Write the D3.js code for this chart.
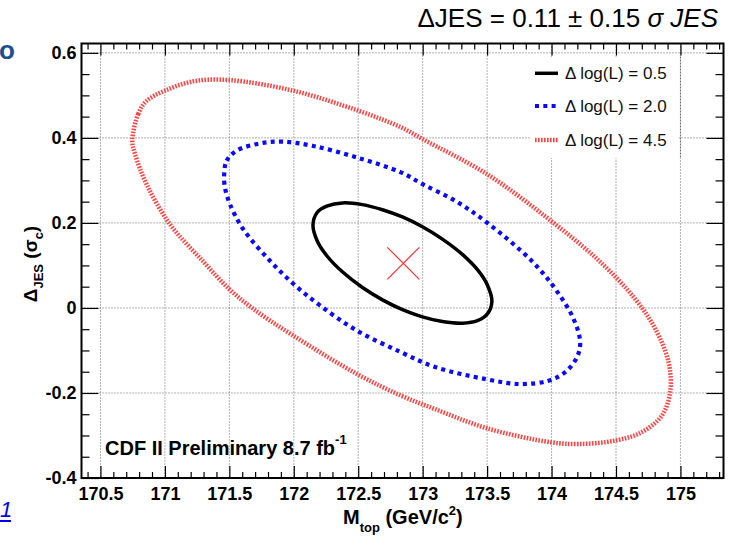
<!DOCTYPE html>
<html>

<head>
    <meta charset="UTF-8">
    <style>
        body { margin: 0; background: #fff; }
        svg { display: block; font-family: "Liberation Sans", Arial, sans-serif; }
        .tick text { font-weight: bold; font-size: 18px; fill: #000; }
    </style>
</head>

<body>
    <svg></svg>
    <script src="https://d3js.org/d3.v7.min.js"></script>

    <script>
        const w = 732;
        const h = 536;

        // contour points: [M_top, Delta_JES]
        const contour05 = [
            [172.149, 0.195], [172.183, 0.225], [172.261, 0.240], [172.377, 0.247], [172.533, 0.243],
            [172.688, 0.231], [172.843, 0.214], [172.998, 0.191], [173.153, 0.162], [173.308, 0.126],
            [173.425, 0.090], [173.502, 0.054], [173.537, 0.015], [173.502, -0.014], [173.425, -0.030],
            [173.308, -0.036], [173.153, -0.032], [172.998, -0.021], [172.843, -0.004], [172.688, 0.019],
            [172.533, 0.048], [172.377, 0.085], [172.261, 0.121], [172.183, 0.157]
        ];
        const contour20 = [
            [171.460, 0.315], [171.479, 0.346], [171.557, 0.370], [171.737, 0.387], [171.918, 0.391],
            [172.151, 0.381], [172.488, 0.354], [172.831, 0.319], [173.000, 0.291], [173.253, 0.252],
            [173.498, 0.201], [173.848, 0.110], [174.028, 0.045], [174.171, -0.026], [174.222, -0.081],
            [174.197, -0.116], [174.106, -0.151], [173.977, -0.171], [173.757, -0.179], [173.498, -0.168],
            [173.097, -0.139], [172.831, -0.104], [172.488, -0.053], [172.203, 0.006], [171.996, 0.057],
            [171.815, 0.111], [171.608, 0.185], [171.505, 0.244], [171.466, 0.283]
        ];
        const contour45 = [
            [170.747, 0.393], [170.793, 0.456], [170.858, 0.487], [171.000, 0.511], [171.220, 0.533],
            [171.497, 0.536], [171.996, 0.511], [172.500, 0.464], [172.831, 0.425], [173.000, 0.397],
            [173.498, 0.315], [173.995, 0.205], [174.375, 0.109], [174.649, 0.021], [174.804, -0.049],
            [174.908, -0.128], [174.920, -0.198], [174.856, -0.253], [174.701, -0.292], [174.494, -0.312],
            [174.210, -0.320], [173.995, -0.316], [173.498, -0.283], [173.097, -0.238], [172.831, -0.206],
            [172.488, -0.155], [171.996, -0.065], [171.685, -0.002], [171.497, 0.045], [171.298, 0.109],
            [171.039, 0.197], [170.858, 0.291], [170.768, 0.362]
        ];
        const bestFit = [172.85, 0.105];

        const xMajor = [170.5, 171, 171.5, 172, 172.5, 173, 173.5, 174, 174.5, 175];
        const xLabels = ["170.5", "171", "171.5", "172", "172.5", "173", "173.5", "174", "174.5", "175"];
        const yMajor = [-0.4, -0.2, 0, 0.2, 0.4, 0.6];
        const yLabels = ["-0.4", "-0.2", "0", "0.2", "0.4", "0.6"];
        const legendLabels = ["\u0394 log(L) = 0.5", "\u0394 log(L) = 2.0", "\u0394 log(L) = 4.5"];

        const frame = { left: 81.5, right: 723.5, top: 43.5, bottom: 478 };

        let svg = d3.select("svg")
            .attr("width", w)
            .attr("height", h);

        const x = d3.scaleLinear()
            .domain([170.353, 175.334])
            .range([frame.left, frame.right]);
        const y = d3.scaleLinear()
            .domain([-0.4, 0.622])
            .range([frame.bottom, frame.top]);

        const xMinor = d3.range(170.4, 175.34, 0.1).map(v => +v.toFixed(1)).filter(v => !xMajor.includes(v));
        const yMinor = d3.range(-0.35, 0.62, 0.05).map(v => +v.toFixed(2)).filter(v => !yMajor.includes(v));

        // grid
        const grid = svg.append("g").attr("class", "grid")
            .attr("stroke", "#666").attr("stroke-width", 1).attr("stroke-dasharray", "1,2");
        grid.selectAll(".gx").data(xMajor).join("line")
            .attr("x1", d => x(d)).attr("x2", d => x(d))
            .attr("y1", frame.top).attr("y2", frame.bottom);
        grid.selectAll(".gy").data(yMajor.filter(d => d > -0.4)).join("line")
            .attr("x1", frame.left).attr("x2", frame.right)
            .attr("y1", d => y(d)).attr("y2", d => y(d));

        // legend background hides the grid
        svg.append("rect")
            .attr("x", 531).attr("y", 57).attr("width", 148).attr("height", 101)
            .attr("fill", "#fff");
        svg.append("line")
            .attr("x1", x(175)).attr("x2", x(175)).attr("y1", 57).attr("y2", 158)
            .attr("stroke", "#666").attr("stroke-dasharray", "1,2");

        // contours
        const line = d3.line()
            .x(d => x(d[0]))
            .y(d => y(d[1]))
            .curve(d3.curveCatmullRomClosed.alpha(0.5));

        const styles = [
            { data: contour45, stroke: "#ff4444", width: 4.5, dash: "1.6,1.4" },
            { data: contour20, stroke: "#0a0aff", width: 4.2, dash: "4,4.3" },
            { data: contour05, stroke: "#000", width: 3.5, dash: null }
        ];

        svg.append("g").selectAll("path")
            .data(styles)
            .join("path")
            .attr("d", d => line(d.data))
            .attr("fill", "none")
            .attr("stroke", d => d.stroke)
            .attr("stroke-width", d => d.width)
            .attr("stroke-dasharray", d => d.dash);

        // best fit cross
        const cx = x(bestFit[0]), cy = y(bestFit[1]);
        svg.append("path")
            .attr("d", `M${cx - 16},${cy - 16}L${cx + 16},${cy + 16}M${cx - 16},${cy + 16}L${cx + 16},${cy - 16}`)
            .attr("stroke", "#ff3030")
            .attr("stroke-width", 1.2);

        // axes
        const axisG = svg.append("g").attr("class", "axes");
        function drawAxis(axis, tx, ty) {
            const g = axisG.append("g")
                .attr("transform", `translate(${tx},${ty})`)
                .call(axis);
            g.select(".domain").remove();
            g.selectAll(".tick line").attr("stroke", "#000").attr("stroke-width", 1.2);
            return g;
        }

        drawAxis(d3.axisBottom(x).tickValues(xMajor).tickSize(-12).tickPadding(9)
            .tickFormat((d, i) => xLabels[i]), 0, frame.bottom)
            .selectAll("text").attr("dy", "0.71em");
        drawAxis(d3.axisBottom(x).tickValues(xMinor).tickSize(-6).tickFormat(""), 0, frame.bottom);
        drawAxis(d3.axisTop(x).tickValues(xMajor).tickSize(-12).tickFormat(""), 0, frame.top);
        drawAxis(d3.axisTop(x).tickValues(xMinor).tickSize(-6).tickFormat(""), 0, frame.top);

        drawAxis(d3.axisLeft(y).tickValues(yMajor).tickSize(-17).tickPadding(5)
            .tickFormat((d, i) => yLabels[i]), frame.left, 0);
        drawAxis(d3.axisLeft(y).tickValues(yMinor).tickSize(-8).tickFormat(""), frame.left, 0);
        drawAxis(d3.axisRight(y).tickValues(yMajor).tickSize(-17).tickFormat(""), frame.right, 0);
        drawAxis(d3.axisRight(y).tickValues(yMinor).tickSize(-8).tickFormat(""), frame.right, 0);

        svg.selectAll(".tick text").attr("font-family", "'Liberation Sans', Arial, sans-serif");

        // frame
        svg.append("rect")
            .attr("x", frame.left).attr("y", frame.top)
            .attr("width", frame.right - frame.left).attr("height", frame.bottom - frame.top)
            .attr("fill", "none").attr("stroke", "#000").attr("stroke-width", 2);

        // legend
        const legend = svg.append("g").attr("class", "legend");
        const legY = [73.3, 106, 140];
        legend.selectAll("line")
            .data(styles.slice().reverse())
            .join("line")
            .attr("x1", 535).attr("x2", (d, i) => i == 1 ? 559 : 558)
            .attr("y1", (d, i) => legY[i]).attr("y2", (d, i) => legY[i])
            .attr("stroke", d => d.stroke)
            .attr("stroke-width", d => d.width)
            .attr("stroke-dasharray", d => d.dash);
        legend.selectAll("text")
            .data(legendLabels)
            .join("text")
            .attr("x", 565)
            .attr("y", (d, i) => legY[i] + 6)
            .attr("font-size", "17px")
            .attr("fill", "#111")
            .text(d => d);

        // CDF label
        const cdf = svg.append("text")
            .attr("x", 105).attr("y", 455)
            .attr("font-size", "20px").attr("font-weight", "bold")
            .text("CDF II Preliminary 8.7 fb");
        cdf.append("tspan").attr("font-size", "13px").attr("dy", -11).text("-1");

        // x axis title
        const xt = svg.append("text")
            .attr("x", 343).attr("y", 524)
            .attr("font-size", "20px").attr("font-weight", "bold");
        xt.append("tspan").text("M");
        xt.append("tspan").attr("font-size", "13px").attr("dy", 8).text("top");
        xt.append("tspan").attr("dy", -8).text(" (GeV/c");
        xt.append("tspan").attr("font-size", "13px").attr("dy", -9).text("2");
        xt.append("tspan").attr("dy", 9).text(")");

        // y axis title
        const yt = svg.append("text")
            .attr("transform", "translate(37,264) rotate(-90)")
            .attr("text-anchor", "middle")
            .attr("font-size", "19px").attr("font-weight", "bold");
        yt.append("tspan").text("\u0394");
        yt.append("tspan").attr("font-size", "13px").attr("dy", 6).text("JES");
        yt.append("tspan").attr("dy", -6).text(" (\u03c3");
        yt.append("tspan").attr("font-size", "13px").attr("dy", 6).text("c");
        yt.append("tspan").attr("dy", -6).text(")");

        // slide text around the figure
        const title = svg.append("text")
            .attr("x", 718).attr("y", 27)
            .attr("text-anchor", "end")
            .attr("font-size", "26px")
            .attr("fill", "#000");
        title.append("tspan").text("\u0394JES = 0.11 \u00b1 0.15 ");
        title.append("tspan").attr("font-style", "italic").text("\u03c3 JES");

        svg.append("text")
            .attr("x", -1).attr("y", 59)
            .attr("font-size", "26px").attr("font-weight", "bold")
            .attr("fill", "#1f4e8c")
            .text("o");

        svg.append("text")
            .attr("x", 0).attr("y", 517)
            .attr("font-size", "22px").attr("font-style", "italic")
            .attr("fill", "#0000ee")
            .text("1");
        svg.append("line")
            .attr("x1", 0).attr("x2", 11).attr("y1", 521).attr("y2", 521)
            .attr("stroke", "#0000ee").attr("stroke-width", 2);
    </script>

</body>

</html>
